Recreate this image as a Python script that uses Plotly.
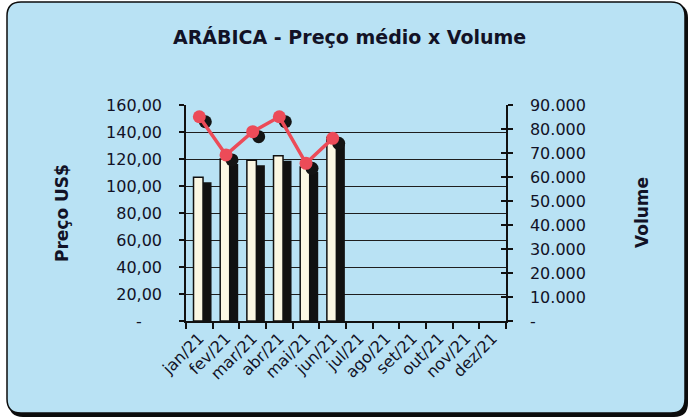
import numpy as np
import plotly.graph_objects as go

# ---------------- data ----------------
months = ["jan/21", "fev/21", "mar/21", "abr/21", "mai/21", "jun/21",
          "jul/21", "ago/21", "set/21", "out/21", "nov/21", "dez/21"]
preco = [106.5, 120.0, 119.0, 122.5, 114.0, 136.0]          # bars (left axis)
volume = [85100, 69200, 78900, 85100, 65700, 76100]          # line (right axis)
left_ticks = [0, 20, 40, 60, 80, 100, 120, 140, 160]
right_ticks = [0, 10000, 20000, 30000, 40000, 50000, 60000, 70000, 80000, 90000]

# ---------------- styling constants ----------------
W, H = 689, 418
ML, MR, MT, MB = 186, 183, 105, 97
PW, PH = W - ML - MR, H - MT - MB
FONT = "DejaVu Sans"
TXT = "#121226"
BG = "#b9e2f4"
RED = "#ec4b58"
CREAM = "#fbf7e3"

idx = np.arange(len(months))
nb = len(preco)
unit_px = PW / len(months)
bar_w = 9.5 / unit_px
bar_off = -5.8 / unit_px
shadow_dx = 8.5 / unit_px
shadow_dy_left = 5 * 160 / PH
mk_dx = 6 / unit_px
mk_dy_right = 5 * 90000 / PH


def fmt_left(v):
    return "-\u00a0\u00a0\u00a0\u00a0" if v == 0 else f"{v:.2f}".replace(".", ",")


def fmt_right(v):
    return "-" if v == 0 else f"{v:,}".replace(",", ".")


fig = go.Figure()

# bar shadows
fig.add_trace(go.Bar(
    x=idx[:nb], y=preco, base=-shadow_dy_left, width=bar_w,
    offset=bar_off + shadow_dx, marker=dict(color="#111111", line=dict(width=0)),
    yaxis="y", hoverinfo="skip", showlegend=False))
# bars
fig.add_trace(go.Bar(
    x=idx[:nb], y=preco, width=bar_w, offset=bar_off,
    marker=dict(color=CREAM, line=dict(color="#111111", width=1.5)),
    yaxis="y", showlegend=False))
# marker shadows (on the visible right axis)
fig.add_trace(go.Scatter(
    x=idx[:len(volume)] + mk_dx, y=np.array(volume) - mk_dy_right,
    mode="markers", marker=dict(color="#141414", size=13),
    yaxis="y2", hoverinfo="skip", showlegend=False))
# line
fig.add_trace(go.Scatter(
    x=idx[:len(volume)], y=volume, mode="lines+markers",
    line=dict(color=RED, width=3.5), marker=dict(color=RED, size=13),
    yaxis="y3", showlegend=False))


def px2paper(px, py):
    return (px - ML) / PW, (H - MB - py) / PH


def rounded_path(x0, y0, x1, y1, r):
    def P(x, y):
        a, b = px2paper(x, y)
        return f"{a:.5f},{b:.5f}"
    return (f"M {P(x0 + r, y0)} L {P(x1 - r, y0)} Q {P(x1, y0)} {P(x1, y0 + r)} "
            f"L {P(x1, y1 - r)} Q {P(x1, y1)} {P(x1 - r, y1)} "
            f"L {P(x0 + r, y1)} Q {P(x0, y1)} {P(x0, y1 - r)} "
            f"L {P(x0, y0 + r)} Q {P(x0, y0)} {P(x0 + r, y0)} Z")


fig.add_shape(type="path", xref="paper", yref="paper", layer="below",
              path=rounded_path(9, 4, 688, 417, 14),
              fillcolor="#0c0c0c", line=dict(width=0))
fig.add_shape(type="path", xref="paper", yref="paper", layer="below",
              path=rounded_path(7, 2, 685, 413, 14),
              fillcolor=BG, line=dict(color="#0c0c0c", width=1.5))

ann_specs = [("<b>ARÁBICA - Preço médio x Volume</b>", 349, 37, 19, 0),
             ("<b>Preço US$</b>", 62, 213, 17, -90),
             ("<b>Volume</b>", 642, 213, 17, -90)]
annotations = []
for text, px, py, size, ang in ann_specs:
    ax, ay = px2paper(px, py)
    annotations.append(dict(text=text, x=ax, y=ay, xref="paper", yref="paper",
                            xanchor="center", yanchor="middle", showarrow=False,
                            textangle=ang, font=dict(size=size, color=TXT, family=FONT)))

fig.update_layout(
    width=W, height=H,
    margin=dict(l=ML, r=MR, t=MT, b=MB, pad=0, autoexpand=False),
    paper_bgcolor="white", plot_bgcolor="rgba(0,0,0,0)",
    barmode="overlay",
    font=dict(family=FONT, color=TXT, size=15),
    xaxis=dict(range=[-0.5, len(months) - 0.5], tickmode="array",
               tickvals=idx, ticktext=months, ticks="", tickangle=-45,
               tickfont=dict(size=16, color=TXT), automargin=False,
               showline=True, linecolor="#111111", linewidth=1.5,
               showgrid=False, zeroline=False,
               minor=dict(tickmode="array", tickvals=np.arange(len(months) + 1) - 0.5,
                          ticks="outside", ticklen=6, tickwidth=1.5,
                          tickcolor="#111111", showgrid=False)),
    yaxis=dict(range=[0, 160], tickmode="array", tickvals=left_ticks,
               ticktext=[fmt_left(v) for v in left_ticks], automargin=False,
               ticks="outside", ticklen=5, tickwidth=1.5, tickcolor="#111111",
               ticklabelstandoff=14, tickfont=dict(size=16, color=TXT),
               showgrid=True, gridcolor="#1e1e1e", gridwidth=1.2,
               showline=True, linecolor="#111111", linewidth=1.5, zeroline=False),
    yaxis2=dict(range=[0, 90000], overlaying="y", side="right", automargin=False,
                tickmode="array", tickvals=right_ticks,
                ticktext=[fmt_right(v) for v in right_ticks],
                ticks="outside", ticklen=5, tickwidth=1.5, tickcolor="#111111",
                ticklabelstandoff=14, tickfont=dict(size=16, color=TXT),
                showgrid=False, showline=True, linecolor="#111111", linewidth=1.5,
                zeroline=False),
    yaxis3=dict(range=[0, 90000], overlaying="y", side="right", automargin=False,
                tickmode="array", tickvals=right_ticks, ticks="inside",
                ticklen=5, tickwidth=1.5, tickcolor="#111111",
                showticklabels=False, showgrid=False, showline=False, zeroline=False),
    annotations=annotations,
)

fig.write_html("out.html", config={"displayModeBar": False},
               post_script="document.body.style.margin='0';document.body.style.padding='0';")
